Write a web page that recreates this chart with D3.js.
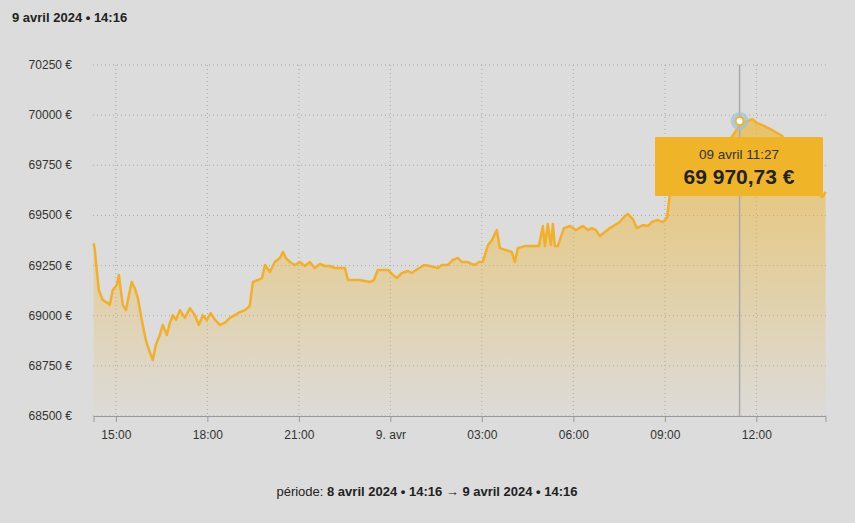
<!DOCTYPE html>
<html><head><meta charset="utf-8">
<script src="https://cdn.jsdelivr.net/npm/d3@7"></script>
<style>body{margin:0;background:#dcdcdc;font-family:"Liberation Sans",Arial,sans-serif}</style>
</head><body><svg id="c" width="855" height="523"></svg>
<script>
// hours since 8 avril 00:00
const hours = [14.27,14.31,14.44,14.57,14.74,14.80,14.90,15.03,15.10,15.16,15.23,15.33,15.43,15.52,15.62,15.72,15.85,15.98,16.11,16.21,16.31,16.44,16.54,16.67,16.77,16.87,16.97,17.10,17.26,17.43,17.59,17.72,17.85,17.98,18.11,18.25,18.41,18.57,18.74,18.90,19.07,19.23,19.39,19.49,19.66,19.79,19.89,20.05,20.21,20.38,20.48,20.57,20.70,20.87,21.03,21.20,21.36,21.52,21.69,21.85,22.02,22.18,22.34,22.51,22.61,22.84,23.00,23.16,23.33,23.46,23.59,23.82,23.92,24.05,24.21,24.38,24.57,24.70,24.90,25.10,25.30,25.56,25.69,25.89,26.05,26.21,26.34,26.51,26.67,26.77,26.90,27.03,27.20,27.33,27.49,27.59,27.79,27.98,28.08,28.18,28.41,28.64,28.87,29.00,29.07,29.16,29.26,29.33,29.39,29.49,29.69,29.89,30.08,30.31,30.48,30.61,30.74,30.87,31.03,31.20,31.36,31.52,31.69,31.79,31.95,32.08,32.28,32.44,32.57,32.77,32.93,33.07,33.16,33.26,33.49,33.82,34.15,34.48,34.80,35.13,35.45,35.70,35.87,36.03,36.20,36.52,36.85,37.18,37.51,37.70,37.90,38.16,38.27];
const prices = [69362,69327,69128,69078,69063,69053,69128,69153,69203,69128,69053,69028,69103,69168,69138,69088,68979,68879,68819,68779,68854,68904,68954,68904,68964,69003,68979,69028,68989,69038,69003,68954,69003,68979,69013,68979,68954,68964,68989,69003,69018,69028,69048,69168,69178,69188,69253,69218,69268,69288,69318,69288,69268,69253,69268,69248,69268,69238,69258,69248,69248,69238,69238,69238,69178,69178,69178,69173,69168,69178,69228,69228,69228,69208,69188,69213,69223,69213,69233,69253,69248,69238,69253,69253,69278,69288,69268,69268,69258,69253,69268,69268,69352,69377,69427,69337,69327,69318,69268,69337,69347,69347,69347,69447,69347,69457,69352,69457,69347,69347,69437,69447,69427,69447,69427,69437,69427,69397,69417,69437,69452,69467,69497,69507,69482,69437,69452,69447,69467,69477,69467,69487,69602,69627,69676,69701,69751,69776,69826,69876,69950,69971,69980,69960,69950,69925,69896,69776,69726,69676,69627,69592,69617,69612,69607];
const yTicks = [68500,68750,69000,69250,69500,69750,70000,70250];
const xTicks = [15,18,21,24,27,30,33,36];
const xTickLabels = ["15:00","18:00","21:00","9. avr","03:00","06:00","09:00","12:00"];
const tipLabel = "09 avril 11:27", tipValue = "69 970,73 €", tipHour = 35.45, tipPrice = 69970.73;

const svg = d3.select("#c");
const x = d3.scaleLinear().domain([14.2667,38.2667]).range([93.5,825.5]);
const y = d3.scaleLinear().domain([68500,70250]).range([416,65]);
const data = hours.map((h,i)=>({h,v:prices[i]}));
const defs = svg.append("defs");
const g = defs.append("linearGradient").attr("id","gr").attr("x1",0).attr("x2",0).attr("y1",0).attr("y2",1);
g.append("stop").attr("offset","0%").attr("stop-color","#f0b429").attr("stop-opacity",0.65);
g.append("stop").attr("offset","100%").attr("stop-color","#f0b429").attr("stop-opacity",0.02);

svg.append("g").selectAll("line").data(yTicks).join("line")
 .attr("x1",93).attr("x2",826).attr("y1",d=>y(d)).attr("y2",d=>y(d))
 .attr("stroke","#aaa").attr("stroke-dasharray","1,3");
svg.append("g").selectAll("line").data(xTicks).join("line")
 .attr("x1",d=>x(d)).attr("x2",d=>x(d)).attr("y1",65).attr("y2",416)
 .attr("stroke","#aaa").attr("stroke-dasharray","1,3");
svg.append("g").selectAll("text").data(yTicks).join("text")
 .attr("x",72).attr("y",d=>y(d)+4).attr("text-anchor","end").attr("font-size",12).attr("fill","#333")
 .text(d=>d+" €");
const xa = svg.append("g").attr("transform","translate(0,416)")
 .call(d3.axisBottom(x).tickValues(xTicks).tickFormat((d,i)=>xTickLabels[i]).tickSize(6).tickPadding(8));
xa.select(".domain").attr("stroke","#999");
xa.selectAll(".tick line").attr("stroke","#999");
xa.selectAll("text").attr("font-size",12).attr("fill","#333").attr("font-family","Liberation Sans, Arial");

svg.append("path").datum(data).attr("fill","url(#gr)")
 .attr("d",d3.area().x(d=>x(d.h)).y0(y(68500)).y1(d=>y(d.v)));
svg.append("path").datum(data).attr("fill","none").attr("stroke","#f2b02a").attr("stroke-width",2.5).attr("stroke-linejoin","round")
 .attr("d",d3.line().x(d=>x(d.h)).y(d=>y(d.v)));

const px = x(tipHour), py = y(tipPrice);
svg.append("line").attr("x1",px).attr("x2",px).attr("y1",65).attr("y2",416).attr("stroke","#aaa").attr("stroke-width",1.5);
svg.append("circle").attr("cx",px).attr("cy",py).attr("r",9).attr("fill","#9ec3dd").attr("opacity",0.7);
svg.append("circle").attr("cx",px).attr("cy",py).attr("r",4).attr("fill","#fff").attr("stroke","#f0b429").attr("stroke-width",2);
svg.append("rect").attr("x",655).attr("y",137).attr("width",168).attr("height",59).attr("fill","#f0b429").attr("rx",1);
svg.append("text").attr("x",739).attr("y",159).attr("text-anchor","middle").attr("font-size",13.5).attr("fill","#333").text(tipLabel);
svg.append("text").attr("x",739).attr("y",184).attr("text-anchor","middle").attr("font-size",21).attr("font-weight","bold").attr("fill","#222").text(tipValue);

svg.append("text").attr("x",12).attr("y",22).attr("font-size",13).attr("font-weight","bold").attr("fill","#222").text("9 avril 2024 • 14:16");
const ft = svg.append("text").attr("x",427).attr("y",496).attr("text-anchor","middle").attr("font-size",13).attr("fill","#222");
ft.append("tspan").text("période: ");
ft.append("tspan").attr("font-weight","bold").text("8 avril 2024 • 14:16 → 9 avril 2024 • 14:16");
</script></body></html>
